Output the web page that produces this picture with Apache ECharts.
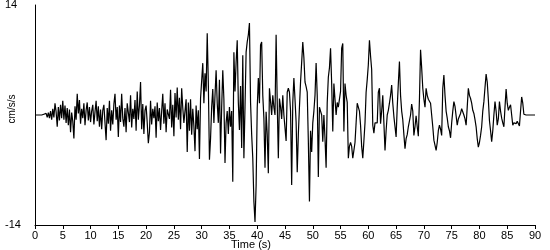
<!DOCTYPE html>
<html>
<head>
<meta charset="utf-8">
<script src="https://cdn.jsdelivr.net/npm/echarts/dist/echarts.min.js"></script>
<style>
html,body{margin:0;padding:0;background:#fff;}
#chart{width:550px;height:250px;}
</style>
</head>
<body>
<div id="chart"></div>
<script>
// sample interval (s)
const DT = 0.2;
// acceleration (cm/s/s), 0 - 29.8 s
const accel0to30 = [
0,0,0,0,0,
0,0,0,0.1,-0.1,
0.2,-0.3,0.3,-0.4,0.5,
-0.6,0.8,-0.3,1.5,0.4,
-1.5,1.0,-0.7,1.3,-0.4,
1.8,-0.6,1.2,-1.0,0.9,
-1.3,0.7,-2.2,0.3,-0.8,
-3.0,1.1,-0.6,2.7,0.2,
1.9,-1.1,0.8,-0.4,1.5,
-1.3,0.6,1.6,-0.7,1.0,
-0.9,0.5,1.3,-1.2,0.4,
1.8,-0.8,1.1,-1.5,0.7,
-1.8,0.6,1.3,-1.0,-3.2,
0.9,-1.1,1.8,-2.0,0.6,
-1.2,1.4,2.7,-0.6,1.0,
-2.8,1.2,-0.9,2.7,-0.4,
-1.5,0.9,-2.2,1.5,0.3,
-0.9,2.5,-1.6,0.8,-0.5,
1.9,-2.0,3.0,-0.6,1.2,
4.2,-1.8,1.4,-2.4,0.6,
1.2,-1.0,-3.6,-2.2,1.8,
-1.2,0.8,-0.4,1.1,-2.9,
1.6,-0.8,0.9,-1.9,0.5,
2.7,-1.1,1.5,-2.2,0.7,
0.8,-0.5,3.2,-1.6,1.3,
-2.7,2.8,-0.3,3.5,-0.6,
2.2,-1.8,3.4,0.9,-1.0,
-1.2,2.0,-4.7,1.6,-2.0,
2.0,-2.5,0.8,-1.4,-4.6,
1.2,-1.8,0.6,-5.6,2.1
];
// 30 - 59.8 s
const accel30to60 = [
2.1,6.6,1.5,5.3,3.0,
10.4,4.0,-5.7,-3.0,1.0,
3.3,-1.0,2.5,5.7,1.5,
-1.0,4.5,-4.9,1.0,5.7,
2.0,-6.1,-1.0,0.5,-2.4,
1.0,-1.5,0.5,-8.5,8.0,
3.0,6.7,9.5,1.6,-1.9,
3.7,-4.2,7.6,-5.5,1.0,
8.0,9.3,10.2,11.7,1.6,
-2.5,-5.5,-11.0,-13.6,-9.0,
0.9,4.7,1.5,8.9,9.3,
2.5,-0.4,-6.7,0.4,-2.5,
-7.4,3.4,3.6,0.0,2.5,
1.0,0.0,10.2,1.6,-5.5,
2.1,1.0,-0.5,2.5,0.0,
0.0,-3.3,2.9,3.4,2.9,
0.5,-8.9,1.6,4.7,2.0,
-0.9,-7.3,-2.5,1.0,4.2,
6.7,9.3,7.3,4.2,3.6,
2.9,-3.3,-11.0,-2.0,-4.7,
-1.0,0.5,2.5,6.6,2.5,
-7.9,1.0,0.5,0.0,-3.4,
0.0,-3.0,-6.7,1.6,4.8,
6.0,8.5,4.0,-2.1,4.0,
2.0,0.0,1.6,1.0,0.8,
3.0,8.5,9.1,-2.1,4.0,
2.5,1.6,-5.5,-4.0,-3.5,
-4.0,-5.5,-4.5,-3.5,-1.0,
1.5,1.6,0.5,-1.3,-4.0,
-5.5,-3.3,-1.0,2.9,4.5
];
// 60 - 90 s
const accel60to90 = [
6.4,9.5,7.5,5.8,-1.3,
-2.3,-1.0,-1.1,-1.0,2.9,
3.4,-1.1,0.5,2.5,-1.0,
-4.5,-2.0,0.0,0.6,1.5,
2.5,3.8,1.5,-0.2,-1.5,
-2.8,1.0,4.0,6.8,2.5,
0.5,-0.6,-2.5,-4.3,-3.0,
-2.5,-1.5,-1.5,0.0,1.4,
0.5,-2.6,-1.5,-0.1,-1.5,
-2.7,2.0,8.3,6.0,3.4,
2.0,1.0,3.4,2.5,2.0,
2.1,1.5,0.0,-1.5,-3.2,
-3.0,-4.5,-3.5,-2.0,-1.3,
-1.8,-2.6,3.4,5.1,2.5,
0.5,-0.4,-1.5,-2.0,-2.9,
-1.0,0.5,1.7,1.1,1.3,
-1.3,-0.5,-0.4,0.2,0.8,
0.6,0.0,-0.5,-1.3,1.0,
3.4,2.5,2.1,1.5,0.6,
0.2,-0.6,-1.5,-3.0,-4.1,
-3.5,-2.6,-1.5,0.5,1.7,
3.5,5.2,4.2,2.0,-0.7,
-2.0,-3.4,-2.0,0.0,1.7,
0.5,-1.3,-0.5,1.7,0.5,
-0.4,-1.0,-1.5,1.0,3.3,
1.5,0.6,1.0,1.3,0.0,
-1.3,-1.0,-1.2,-1.1,-0.8,
-1.0,-1.4,0.5,2.3,1.5,
0.1,0.0,0.0,0.0,0.0,
0,0,0,0,0,
0
];
const yTickLabels = [-14, 14];
const xRange = [0, 90];
const xStep = 5;
const yTitle = 'cm/s/s';
const xTitle = 'Time (s)';

const accel = accel0to30.concat(accel30to60, accel60to90);
const seriesData = accel.map((v, i) => [+(i * DT).toFixed(2), v]);

const FONT = '"Liberation Sans", Arial, sans-serif';
const chart = echarts.init(document.getElementById('chart'), null, {renderer: 'canvas'});
chart.setOption({
  animation: false,
  backgroundColor: '#ffffff',
  grid: {left: 35, right: 15, top: 5, bottom: 25, containLabel: false, outerBoundsMode: 'none'},
  graphic: [{
    type: 'text',
    x: 12, y: 109,
    rotation: Math.PI / 2,
    silent: true,
    style: {text: yTitle, fill: '#000', font: '10px ' + FONT, textAlign: 'center', textVerticalAlign: 'middle'}
  }],
  xAxis: {
    type: 'value',
    min: xRange[0], max: xRange[1], interval: xStep,
    axisLine: {onZero: false, lineStyle: {color: '#000', width: 1}},
    axisTick: {length: 4, lineStyle: {color: '#000', width: 1}},
    axisLabel: {color: '#000', fontSize: 11, fontFamily: FONT, margin: 5},
    splitLine: {show: false},
    name: xTitle,
    nameLocation: 'middle',
    nameGap: 14,
    nameMoveOverlap: false,
    nameTextStyle: {color: '#000', fontSize: 11, fontFamily: FONT, padding: [0, 68, 0, 0]}
  },
  yAxis: {
    type: 'value',
    min: -14, max: 14, interval: 7,
    axisLine: {show: true, lineStyle: {color: '#000', width: 1}},
    axisTick: {show: false},
    splitLine: {show: false},
    axisLabel: {
      color: '#000', fontSize: 11, fontFamily: FONT, align: 'left', margin: 30,
      formatter: v => yTickLabels.includes(v) ? String(v) : ''
    }
  },
  series: [{
    type: 'line',
    data: seriesData,
    symbol: 'none',
    showSymbol: false,
    silent: true,
    lineStyle: {color: '#000', width: 1.2}
  }]
});
</script>
</body>
</html>
